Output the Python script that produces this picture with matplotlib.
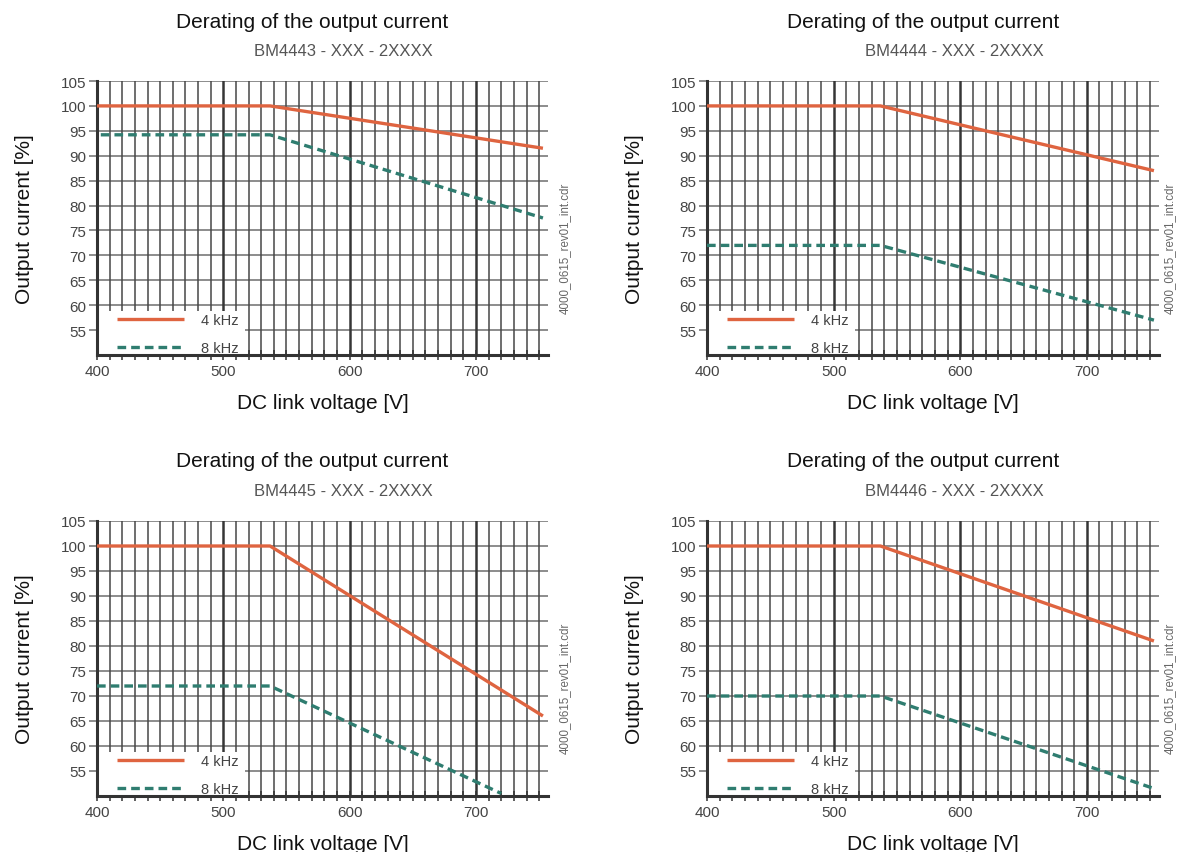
import matplotlib
matplotlib.use('Agg')
import matplotlib.pyplot as plt
from matplotlib.patches import Rectangle

plt.rcParams['font.family'] = ['Liberation Sans', 'DejaVu Sans']

# data (knee points of each derating curve)
models = ['BM4443 - XXX - 2XXXX', 'BM4444 - XXX - 2XXXX',
          'BM4445 - XXX - 2XXXX', 'BM4446 - XXX - 2XXXX']
cdr_tag = '4000_0615_rev01_int.cdr'

v_4k = [[400, 537, 753], [400, 537, 753], [400, 537, 753], [400, 537, 753]]
i_4k = [[100, 100, 91.5], [100, 100, 87.0], [100, 100, 66.0], [100, 100, 81.0]]
v_8k = [[403, 537, 753], [400, 537, 753], [400, 537, 720], [400, 537, 753]]
i_8k = [[94.2, 94.2, 77.5], [72, 72, 57.0], [72, 72, 50.5], [70, 70, 51.5]]

orange = '#df6440'
teal = '#2f7d70'
W, H = 1179, 853

fig = plt.figure(figsize=(W / 100, H / 100), dpi=100)

# axes boxes in pixels: left, top, right, bottom
boxes = [(97, 82, 548, 356), (707, 82, 1159, 356),
         (97, 522, 548, 797), (707, 522, 1159, 797)]
tag_off = [17, 11, 17, 11]

for k in range(4):
    l, t, r, b = boxes[k]
    ax = fig.add_axes([l / W, 1 - b / H, (r - l) / W, (b - t) / H])
    ax.set_xlim(400, 757)
    ax.set_ylim(50, 105)

    # grid
    for y in range(55, 106, 5):
        ax.axhline(y, color='#8c8c8c', lw=1.4, zorder=1)
    for x in range(410, 751, 10):
        if x % 100 == 0:
            ax.axvline(x, color='#363636', lw=1.8, zorder=1.1)
        else:
            ax.axvline(x, color='#474747', lw=1.1, zorder=1.1)

    # white patch behind the legend
    ax.add_patch(Rectangle((400, 50), 117, 8.8, facecolor='white',
                           edgecolor='none', zorder=2))

    ax.plot(v_4k[k], i_4k[k], color=orange, lw=2.4, label='4 kHz', zorder=3,
            solid_capstyle='butt')
    ax.plot(v_8k[k], i_8k[k], color=teal, lw=2.4, ls=(0, (2.6, 1.5)),
            label='8 kHz', zorder=3)

    leg = ax.legend(loc='lower left', bbox_to_anchor=(0.044, 0.0),
                    frameon=False, fontsize=10.5,
                    handlelength=4.6, handletextpad=1.2, labelspacing=0.95,
                    borderpad=0, borderaxespad=0)
    for txt in leg.get_texts():
        txt.set_color('#444444')
    leg.set_zorder(4)

    for side in ['top', 'right']:
        ax.spines[side].set_visible(False)
    for side in ['left', 'bottom']:
        ax.spines[side].set_color('#333333')
        ax.spines[side].set_linewidth(2.2)
        ax.spines[side].set_zorder(2.5)

    ax.set_xticks(range(400, 751, 10))
    ax.set_xticklabels([str(x) if x % 100 == 0 else '' for x in range(400, 751, 10)])
    ax.set_yticks(range(55, 106, 5))
    ax.tick_params(axis='x', direction='inout', length=7, width=1.1,
                   color='#333333', labelsize=11, labelcolor='#444444', pad=3)
    ax.tick_params(axis='y', direction='out', length=6, width=1.4,
                   color='#8c8c8c', labelsize=11, labelcolor='#444444', pad=2)

    ax.set_xlabel('DC link voltage [V]', fontsize=15, labelpad=11, color='#111111')
    ax.set_ylabel('Output current [%]', fontsize=15, labelpad=19, color='#111111')

    cx = (l + r) / 2
    fig.text((cx - 10) / W, 1 - (t - 60) / H, 'Derating of the output current',
             ha='center', va='center', fontsize=15, color='#111111')
    fig.text((cx + 21) / W, 1 - (t - 30) / H, models[k],
             ha='center', va='center', fontsize=12, color='#555555')
    fig.text((r + tag_off[k]) / W, 1 - ((t + b) / 2 + 29) / H, cdr_tag,
             rotation=90, ha='center', va='center', fontsize=8.3,
             color='#666666')

fig.savefig('out.png', dpi=100)
